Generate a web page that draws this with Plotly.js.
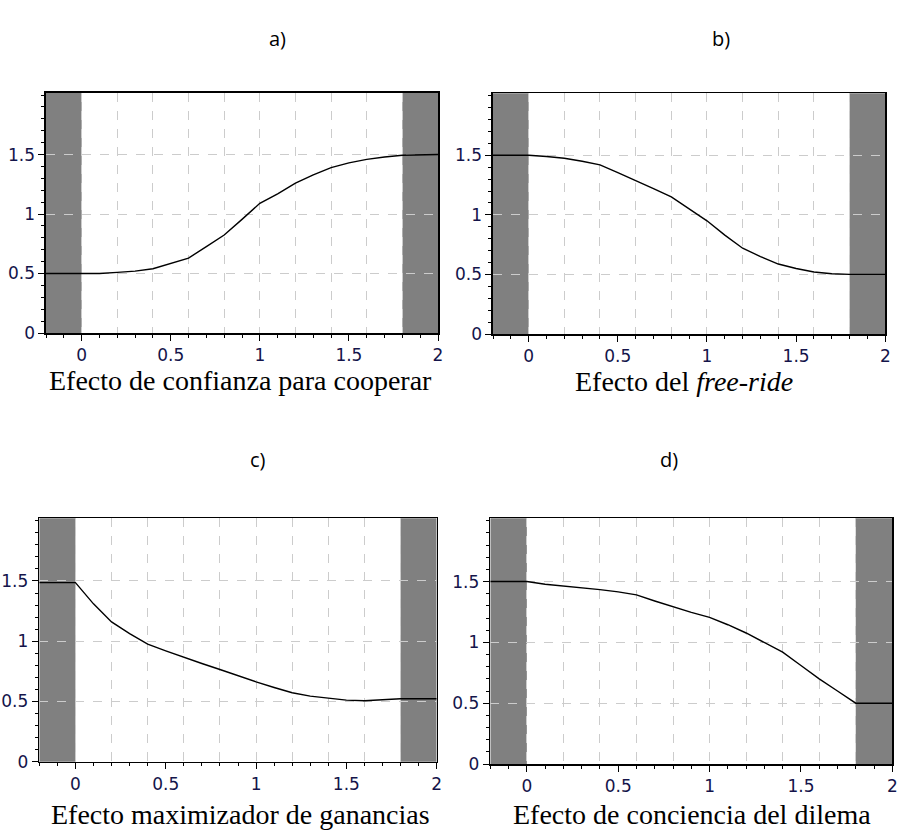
<!DOCTYPE html>
<html>
<head>
<meta charset="utf-8">
<script src="https://cdn.plot.ly/plotly-3.0.1.min.js"></script>
<style>
html, body { margin: 0; padding: 0; background: #ffffff; }
#chart { width: 898px; height: 831px; }
</style>
</head>
<body>
<div id="chart"></div>
<script>
// ---- data ----
const xValues = [-0.2, 0, 0.1, 0.2, 0.3, 0.4, 0.5, 0.6, 0.7, 0.8, 0.9, 1.0, 1.1, 1.2, 1.3, 1.4, 1.5, 1.6, 1.7, 1.8, 2.0];
const seriesA = [0.5, 0.5, 0.5, 0.51, 0.52, 0.54, 0.586, 0.63, 0.726, 0.824, 0.955, 1.09, 1.17, 1.26, 1.33, 1.39, 1.43, 1.46, 1.48, 1.494, 1.5];
const seriesB = [1.5, 1.5, 1.49, 1.475, 1.45, 1.42, 1.355, 1.29, 1.22, 1.15, 1.053, 0.95, 0.83, 0.72, 0.65, 0.587, 0.55, 0.52, 0.506, 0.5, 0.5];
const seriesC = [1.486, 1.486, 1.31, 1.16, 1.063, 0.975, 0.92, 0.865, 0.815, 0.765, 0.713, 0.663, 0.616, 0.572, 0.544, 0.525, 0.511, 0.506, 0.511, 0.522, 0.522];
const seriesD = [1.5, 1.5, 1.478, 1.464, 1.45, 1.434, 1.415, 1.39, 1.34, 1.29, 1.246, 1.205, 1.145, 1.077, 1.0, 0.92, 0.81, 0.70, 0.60, 0.5, 0.5];
const panelLabels = ["a)", "b)", "c)", "d)"];
const axisTitles = ["Efecto de confianza para cooperar", "Efecto del <i>free-ride</i>", "Efecto maximizador de ganancias", "Efecto de conciencia del dilema"];
const xTickVals = [0, 0.5, 1, 1.5, 2];
const xTickText = ["0", "0.5", "1", "1.5", "2"];
const yTickVals = [0, 0.5, 1, 1.5];
const yTickText = ["0", "0.5", "1", "1.5"];
const xGridVals = [0, 0.2, 0.4, 0.6, 0.8, 1.0, 1.2, 1.4, 1.6, 1.8];
const bandLeft = [-0.2, 0];
const bandRight = [1.8, 2];
const xRange = [-0.2, 2];
const yRange = [0, 2.02];

// ---- layout helpers ----
const allSeries = [seriesA, seriesB, seriesC, seriesD];
const domains = [
  {x: [46/898, 438/898],   y: [1 - 333/831, 1 - 92.7/831]},
  {x: [493/898, 885.3/898], y: [1 - 334/831, 1 - 93.3/831]},
  {x: [39.3/898, 436.7/898], y: [1 - 761.7/831, 1 - 518.3/831]},
  {x: [490.3/898, 892.3/898], y: [1 - 764/831, 1 - 518.3/831]}
];
const labelPos = [[277, 38], [721, 38], [258, 460], [669, 460]];
const titlePos = [[240, 380], [684, 381], [240, 814], [692, 814]];

const tickFont = {family: "DejaVu Sans", size: 17, color: "#14144a"};
const gridColor = "#cccccc";

const traces = [];
const layout = {
  width: 898, height: 831,
  margin: {l: 0, r: 0, t: 0, b: 0},
  paper_bgcolor: "#ffffff",
  plot_bgcolor: "rgba(0,0,0,0)",
  showlegend: false,
  shapes: [],
  annotations: []
};

for (let i = 0; i < 4; i++) {
  const n = i + 1;
  const xk = n === 1 ? "x" : "x" + n;
  const yk = n === 1 ? "y" : "y" + n;
  const gk = "x" + (n + 4);
  traces.push({
    type: "scatter", mode: "lines",
    x: xValues, y: allSeries[i],
    xaxis: xk, yaxis: yk,
    line: {color: "#000000", width: 1.4},
    hoverinfo: "skip"
  });
  // helper trace so grid axis is drawn
  traces.push({
    type: "scatter", mode: "lines",
    x: xValues, y: allSeries[i],
    xaxis: gk, yaxis: yk,
    line: {color: "rgba(0,0,0,0)", width: 0},
    hoverinfo: "skip"
  });
  layout["xaxis" + (n === 1 ? "" : n)] = {
    domain: domains[i].x, anchor: yk, range: xRange,
    tickmode: "array", tickvals: xTickVals, ticktext: xTickText,
    showgrid: false, zeroline: false,
    ticks: "outside", ticklen: 6, tickwidth: 1, tickcolor: "#000000",
    minor: {dtick: 0.1, tick0: 0, ticks: "outside", ticklen: 3, tickwidth: 1, tickcolor: "#000000", showgrid: false},
    showline: true, mirror: true, linecolor: "#000000", linewidth: 1.6,
    tickfont: tickFont, fixedrange: true
  };
  layout["xaxis" + (n + 4)] = {
    overlaying: xk, anchor: yk, range: xRange,
    tickmode: "array", tickvals: xGridVals,
    showgrid: true, gridcolor: gridColor, griddash: "dash", gridwidth: 1,
    showticklabels: false, ticks: "", showline: false, zeroline: false, fixedrange: true
  };
  layout["yaxis" + (n === 1 ? "" : n)] = {
    domain: domains[i].y, anchor: xk, range: yRange,
    tickmode: "array", tickvals: yTickVals, ticktext: yTickText,
    showgrid: true, gridcolor: gridColor, griddash: "dash", gridwidth: 1,
    zeroline: false,
    ticks: "outside", ticklen: 6, tickwidth: 1, tickcolor: "#000000",
    minor: {dtick: 0.1, tick0: 0, ticks: "outside", ticklen: 3, tickwidth: 1, tickcolor: "#000000", showgrid: false},
    showline: true, mirror: true, linecolor: "#000000", linewidth: 1.6,
    tickfont: tickFont, fixedrange: true
  };
  [bandLeft, bandRight].forEach(b => {
    layout.shapes.push({
      type: "rect", xref: xk, yref: yk + " domain",
      x0: b[0], x1: b[1], y0: 0, y1: 1,
      fillcolor: "#808080", line: {width: 0}, layer: "below"
    });
  });
  layout.annotations.push({
    text: panelLabels[i], xref: "paper", yref: "paper",
    x: labelPos[i][0] / 898, y: 1 - labelPos[i][1] / 831,
    xanchor: "center", yanchor: "middle", showarrow: false,
    font: {family: "Open Sans", size: 20, color: "#000000"}
  });
  layout.annotations.push({
    text: axisTitles[i], xref: "paper", yref: "paper",
    x: titlePos[i][0] / 898, y: 1 - titlePos[i][1] / 831,
    xanchor: "center", yanchor: "middle", showarrow: false,
    font: {family: "Liberation Serif", size: 28, color: "#000000"}
  });
}

Plotly.newPlot("chart", traces, layout, {staticPlot: true, displayModeBar: false});
</script>
</body>
</html>
